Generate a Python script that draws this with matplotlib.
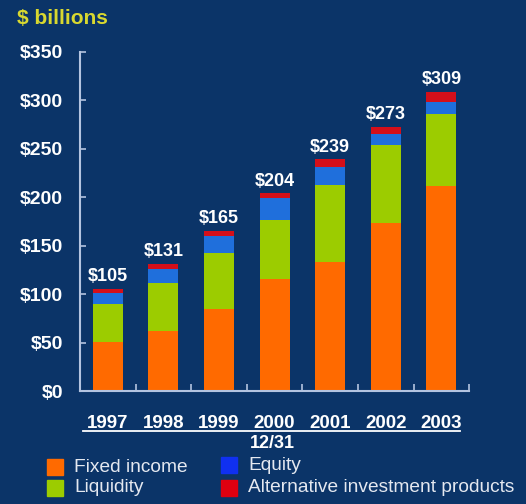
import numpy as np
import matplotlib.pyplot as plt
from matplotlib.lines import Line2D
from matplotlib.patches import Rectangle

plt.rcParams['font.family'] = ['Liberation Sans', 'DejaVu Sans']

# Activos administrados a fin de año, en miles de millones de dólares
years = ["1997", "1998", "1999", "2000", "2001", "2002", "2003"]
fixed_income = [51, 62, 85, 116, 133, 173, 212]
liquidity = [39, 50, 57, 61, 80, 81, 74]
equity = [11, 14, 18, 22, 18, 11, 12]
alternative = [4, 5, 5, 5, 8, 8, 11]
totals = [105, 131, 165, 204, 239, 273, 309]

bg = "#0b3468"
c_fi = "#ff6a00"
c_liq = "#9ccc00"
c_eq = "#1f6fdc"
c_alt = "#d40f1a"
axis_col = "#b4c4e0"

fig = plt.figure(figsize=(5.26, 5.04), dpi=100, facecolor=bg)
ax = fig.add_axes([0.152, 0.224, 0.740, 0.673])
ax.set_facecolor(bg)

x = np.arange(len(years))
w = 0.54
b1 = np.array(fixed_income)
b2 = b1 + np.array(liquidity)
b3 = b2 + np.array(equity)
ax.bar(x, fixed_income, w, color=c_fi, zorder=2)
ax.bar(x, liquidity, w, bottom=b1, color=c_liq, zorder=2)
ax.bar(x, equity, w, bottom=b2, color=c_eq, zorder=2)
ax.bar(x, alternative, w, bottom=b3, color=c_alt, zorder=2)

for xi, t in zip(x, totals):
    ax.text(xi, t + 4, "$%d" % t, ha="center", va="bottom", color="white",
            fontsize=13, fontweight="bold")

ax.set_xlim(-0.5, 6.5)
ax.set_ylim(0, 350)
ax.set_yticks(np.arange(0, 351, 50))
ax.set_yticklabels(["$%d" % v for v in range(0, 351, 50)], color="white",
                   fontsize=14, fontweight="bold")
ax.set_xticks(x + 0.5)
ax.set_xticklabels([])
ax.tick_params(axis="y", direction="in", length=4, color=axis_col, pad=12, width=1.2)
ax.tick_params(axis="x", direction="in", length=5, color=axis_col, width=1.2)
for s in ["top", "right"]:
    ax.spines[s].set_visible(False)
for s in ["left", "bottom"]:
    ax.spines[s].set_color(axis_col)
    ax.spines[s].set_linewidth(1.5)

# Años debajo del eje, subrayados
for xi, yr in zip(x, years):
    ax.text(xi, -25, yr, ha="center", va="top", color="white", fontsize=13.5,
            fontweight="bold", clip_on=False)
fig.add_artist(Line2D([83 / 526, 460 / 526], [1 - 431 / 504, 1 - 431 / 504],
                      color="white", lw=1.3))
fig.text(272 / 526, 1 - 444 / 504, "12/31", ha="center", va="center",
         color="white", fontsize=13, fontweight="bold")

fig.text(17 / 526, 1 - 18 / 504, "$ billions", ha="left", va="center",
         color="#d8d830", fontsize=15, fontweight="bold")

# Leyenda
legend_items = [
    (47, 467, c_fi, "Fixed income"),
    (47, 488, c_liq, "Liquidity"),
    (221, 465, "#1030f0", "Equity"),
    (221, 488, "#e00010", "Alternative investment products"),
]
for lx, ly, col, lab in legend_items:
    fig.add_artist(Rectangle((lx / 526, 1 - (ly + 8) / 504), 16 / 526, 16 / 504,
                             color=col, transform=fig.transFigure))
    fig.text((lx + 27) / 526, 1 - ly / 504, lab, ha="left", va="center",
             color="#e4e8f0", fontsize=13.8)

fig.savefig("out.png", dpi=100, facecolor=bg)
